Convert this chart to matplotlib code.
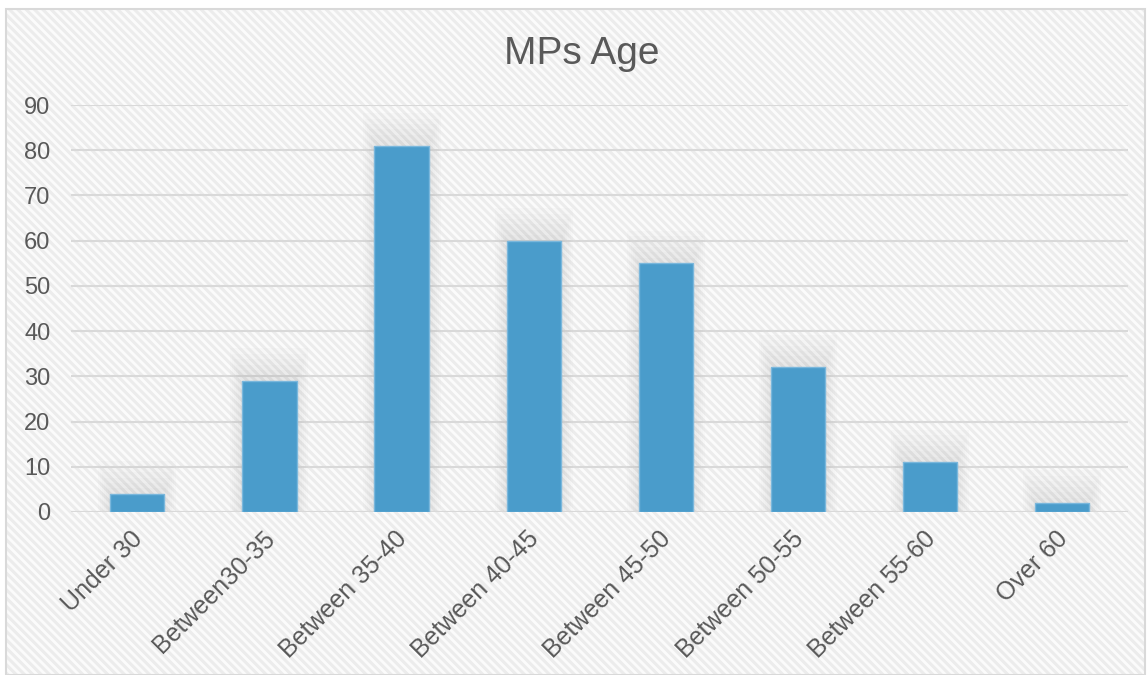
import numpy as np
import matplotlib.pyplot as plt
from matplotlib.patches import Rectangle
from matplotlib.transforms import ScaledTranslation

plt.rcParams['font.family'] = ['Liberation Sans', 'DejaVu Sans']
plt.rcParams['hatch.linewidth'] = 2.2

# Data
categories = ['Under 30', 'Between30-35', 'Between 35-40', 'Between 40-45',
              'Between 45-50', 'Between 50-55', 'Between 55-60', 'Over 60']
counts = [4, 29, 81, 60, 55, 32, 11, 2]
yTicks = list(range(0, 100, 10))

textColor = '#595959'
barColor = '#4a9ccb'
gridColor = '#d9d9d9'

fig = plt.figure(figsize=(11.48, 6.75), dpi=100)

## striped chart background
bg = Rectangle((0.005, 0.0), 0.992, 0.987, transform=fig.transFigure,
               facecolor='#fbfbfb', edgecolor='#ececec', linewidth=0,
               hatch='\\\\\\\\', zorder=-11)
fig.patches.append(bg)
## chart frame
frame = Rectangle((0.005, 0.0), 0.992, 0.987, transform=fig.transFigure,
                  facecolor='none', edgecolor=gridColor, linewidth=1.5,
                  zorder=-10)
fig.patches.append(frame)

ax = fig.add_axes([0.062, 0.2415, 0.921, 0.6029])
ax.patch.set_alpha(0)

x = np.arange(len(categories))

## soft shadow behind the bars
for i in range(6):
    grow = 0.03 * (i + 1)
    ax.bar(x, np.array(counts) + 1.2 * (i + 1), width=0.41 + grow,
           color='#9a9a9a', alpha=0.03, linewidth=0, zorder=1)

ax.bar(x, counts, width=0.41, color=barColor, edgecolor='#7ab7dc',
       linewidth=1.0, zorder=3)

ax.set_ylim(0, 90)
ax.set_xlim(-0.5, len(categories) - 0.5)
ax.set_yticks(yTicks)
ax.yaxis.grid(True, color=gridColor, linewidth=1.5, zorder=0)
ax.set_axisbelow(True)
for side in ['top', 'right', 'left', 'bottom']:
    ax.spines[side].set_visible(False)
ax.axhline(0, color=gridColor, linewidth=1.5, zorder=2)

ax.tick_params(axis='both', length=0, labelcolor=textColor)
ax.tick_params(axis='y', pad=15, labelsize=17)
ax.set_xticks(x)
ax.set_xticklabels(categories, rotation=45, ha='right', va='top',
                   rotation_mode='anchor', fontsize=18)
ax.tick_params(axis='x', pad=10)
shift = ScaledTranslation(-7 / 100, -1 / 100, fig.dpi_scale_trans)
for label in ax.get_xticklabels():
    label.set_transform(label.get_transform() + shift)

fig.text(0.507, 0.92, 'MPs Age', ha='center', va='center',
         fontsize=28, color=textColor)

plt.savefig('out.png', dpi=100)
